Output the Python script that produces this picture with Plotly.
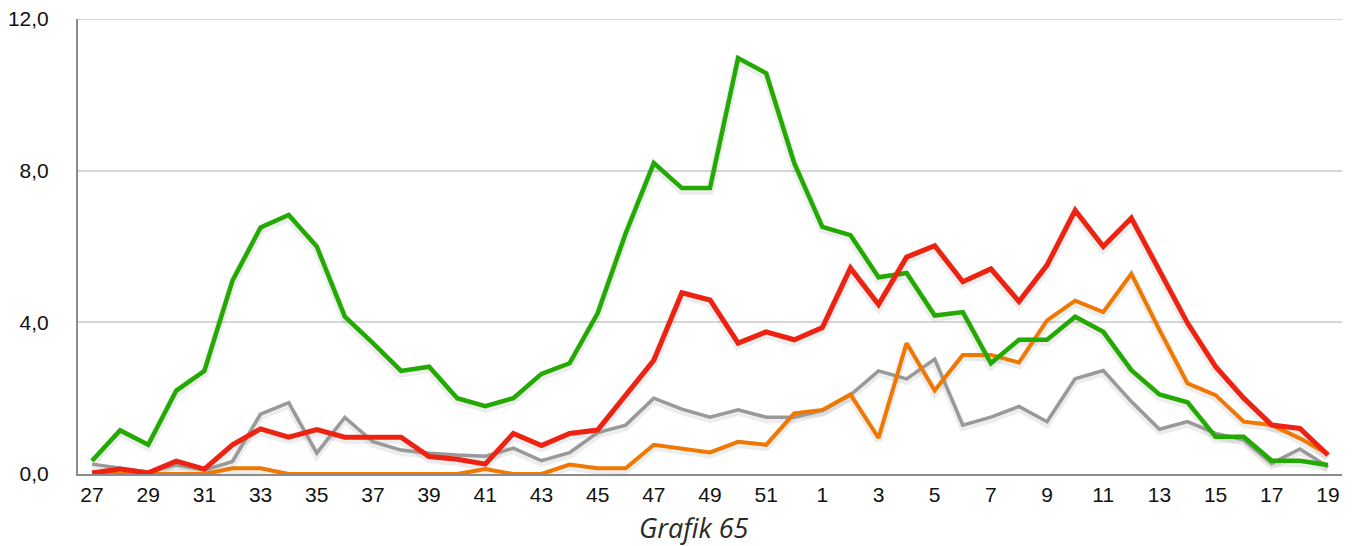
import plotly.graph_objects as go

weeks = [str(w) for w in list(range(27, 53)) + list(range(1, 20))]

green = [0.35, 1.15, 0.77, 2.2, 2.72, 5.1, 6.5, 6.83, 6.0, 4.15, 3.45, 2.72, 2.83, 2.0, 1.79,
         2.0, 2.64, 2.92, 4.24, 6.35, 8.2, 7.54, 7.54, 10.97, 10.57, 8.2, 6.52, 6.3, 5.19,
         5.3, 4.18, 4.27, 2.92, 3.54, 3.54, 4.15, 3.75, 2.74, 2.1, 1.89, 0.98, 0.98, 0.35, 0.35, 0.24]
red = [0.03, 0.13, 0.03, 0.34, 0.13, 0.77, 1.19, 0.97, 1.17, 0.97, 0.97, 0.97, 0.46, 0.39, 0.26,
       1.07, 0.75, 1.07, 1.16, 2.08, 3.0, 4.78, 4.59, 3.45, 3.75, 3.54, 3.86, 5.43, 4.47,
       5.72, 6.02, 5.07, 5.41, 4.55, 5.51, 6.95, 6.0, 6.75, 5.34, 3.98, 2.83, 2.0, 1.29, 1.2, 0.5]
gray = [0.26, 0.15, 0.05, 0.24, 0.1, 0.33, 1.58, 1.88, 0.55, 1.49, 0.85, 0.63, 0.55, 0.5, 0.47,
        0.68, 0.35, 0.56, 1.09, 1.29, 2.0, 1.71, 1.5, 1.69, 1.5, 1.5, 1.67, 2.08, 2.72,
        2.51, 3.03, 1.29, 1.5, 1.78, 1.38, 2.51, 2.73, 1.91, 1.18, 1.38, 1.07, 0.9, 0.28, 0.66, 0.19]
orange = [0.0, 0.0, 0.0, 0.0, 0.0, 0.15, 0.15, 0.0, 0.0, 0.0, 0.0, 0.0, 0.0, 0.0, 0.13,
          0.0, 0.0, 0.25, 0.15, 0.15, 0.77, 0.68, 0.57, 0.85, 0.77, 1.6, 1.69, 2.1, 0.95,
          3.45, 2.2, 3.14, 3.14, 2.94, 4.05, 4.57, 4.27, 5.28, 3.8, 2.39, 2.08, 1.38, 1.29, 0.94, 0.53]

tickvals = weeks[::2]
ytickvals = [0, 4, 8, 12]
caption = "Grafik 65"

series = [
    ("gray", gray, "#999999", 3.5),
    ("orange", orange, "#F07800", 4),
    ("green", green, "#22AA00", 4.5),
    ("red", red, "#EE2211", 5),
]

fig = go.Figure()
# soft shadows
for name, vals, color, w in series:
    fig.add_trace(go.Scatter(x=weeks, y=[v - 0.06 for v in vals], mode="lines",
                             line=dict(color="rgba(0,0,0,0.07)", width=w + 4),
                             hoverinfo="skip", showlegend=False))
for name, vals, color, w in series:
    fig.add_trace(go.Scatter(x=weeks, y=vals, mode="lines", name=name,
                             line=dict(color=color, width=w), showlegend=False))

# page body has an 8px margin, so the figure is sized/offset to compensate
fig.update_layout(
    width=1346, height=538,
    margin=dict(l=70, r=12, t=11, b=72),
    paper_bgcolor="white", plot_bgcolor="white",
    separators=",.",
    font=dict(family="Liberation Sans, Arial, sans-serif", size=21, color="#111111"),
    showlegend=False,
)
# top gridline (plotly hides the grid line lying on the plot edge)
fig.add_shape(type="line", xref="paper", yref="y", x0=0, x1=1,
              y0=ytickvals[-1], y1=ytickvals[-1], layer="below",
              line=dict(color="#d6d6d6", width=2))
fig.add_annotation(
    text="<i>" + caption + "</i>", xref="paper", yref="paper",
    x=0.487, y=-0.1165, xanchor="center", yanchor="middle", showarrow=False,
    font=dict(family="Open Sans, sans-serif", size=27, color="#2a2a2a"),
)
fig.update_xaxes(
    type="category", range=[-0.5, len(weeks) - 0.5], automargin=False,
    tickmode="array", tickvals=tickvals, ticktext=tickvals,
    showgrid=False, showline=True, linecolor="#8c8c8c", linewidth=2,
    ticks="", tickfont=dict(size=21), ticklabelstandoff=1,
)
fig.update_yaxes(
    range=[0, 12.0001], tickvals=ytickvals, tickformat=".1f", automargin=False,
    showgrid=True, gridcolor="#d6d6d6", gridwidth=2,
    showline=True, linecolor="#8c8c8c", linewidth=2, ticklabeloverflow="allow",
    zeroline=False, ticks="", ticklabelstandoff=23, tickfont=dict(size=21),
)

fig.write_html("out.html")
